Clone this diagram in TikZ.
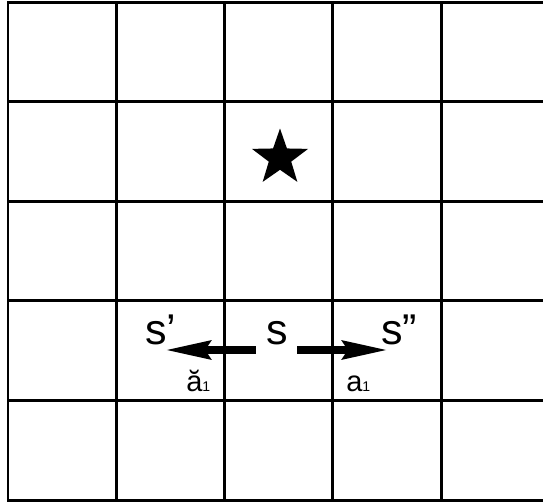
\documentclass[tikz,border=0pt]{standalone}
\usepackage{fontspec}
\setmainfont{Liberation Sans}
\usetikzlibrary{arrows.meta,calc,shapes.geometric}
\newcommand{\actidx}[1]{{\fontsize{8}{9}\selectfont #1}}

\begin{document}
\begin{tikzpicture}[x=0.02cm,y=-0.02cm,
  cell/.style={line width=0.06cm,line cap=rect},
  act/.style={line width=0.16cm,-{Stealth[length=0.9cm,width=0.36cm,inset=0.1cm]}},
  state/.style={inner sep=0pt,font=\fontsize{24.5}{25}\selectfont},
  lbl/.style={inner sep=0pt,font=\fontsize{16.5}{17}\selectfont}]
\useasboundingbox (0,0) rectangle (543,502);
\clip (0,0) rectangle (543,502);
% grid world
\foreach \i in {0,...,5} \draw[cell] ({8+108.25*\i},2.5) -- ({8+108.25*\i},500);
\foreach \j in {0,...,5} \draw[cell] (8,{2.5+99.5*\j}) -- (560,{2.5+99.5*\j});
% goal
\node[star,star points=5,star point ratio=2.5,fill=black,inner sep=0pt,minimum size=1.18cm] (goal) at (280,158) {};
% states
\node[state,anchor=base] (s) at (277,345) {s};
\node[state,anchor=base west] (sl) at (145,345) {s’};
\node[state,anchor=base west] (sr) at (381,345) {s”};
% actions
\draw[act] ([shift={(-10,5)}]s.base west) -- ([shift={(20,5)}]sl.base west);
\draw[act] ([shift={(9,5)}]s.base east) -- ([shift={(7,5)}]sr.base west);
\node[lbl,anchor=base west] (al) at (186,391) {ă\actidx{1}};
\node[lbl,anchor=base west] (ar) at (346,391) {a\actidx{1}};
\end{tikzpicture}
\end{document}
